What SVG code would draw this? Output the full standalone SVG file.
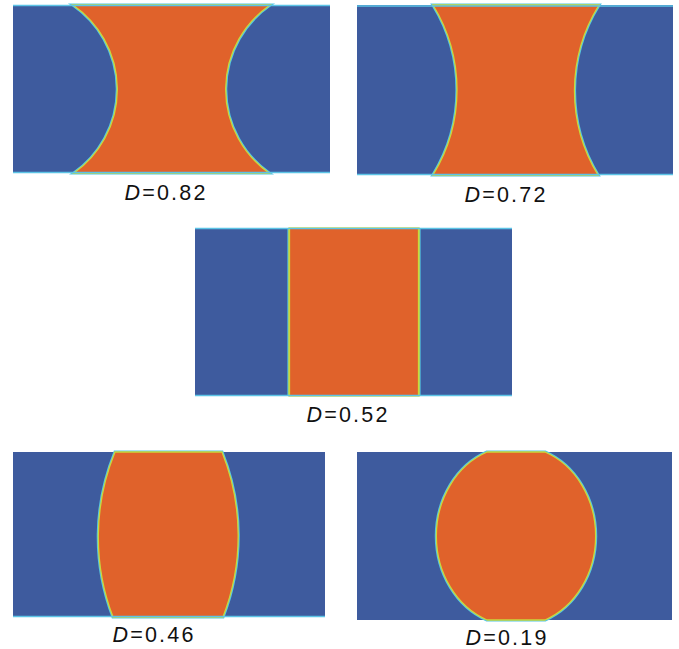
<svg xmlns="http://www.w3.org/2000/svg" width="679" height="649" viewBox="0 0 679 649">
  <style>
    .bg { fill: #3e5b9e; }
    .phase { fill: #e0622b; stroke: #c9d83c; stroke-width: 1.3; }
    .halo { fill: none; stroke: #56c6e2; stroke-width: 3.2; }
    .edge { stroke: #5cc4e6; stroke-width: 1.5; }
    .lbl { font-family: "Liberation Sans", Arial, sans-serif; font-size: 21.5px; fill: #111; text-anchor: middle; letter-spacing: 2.2px; }
    .it { font-style: italic; }
  </style>
  <rect width="679" height="649" fill="#ffffff"/>

  <!-- D = 0.82 : concave neck -->
  <g id="panel-082">
    <rect class="bg" x="13" y="5" width="317" height="168"/>
    <path class="halo" d="M73,5 H270 A104,103 0 0 0 269,173 H74 A104,103 0 0 0 73,5 Z"/>
    <path class="phase" d="M73,5 H270 A104,103 0 0 0 269,173 H74 A104,103 0 0 0 73,5 Z"/>
    <line class="edge" x1="13" y1="5.5" x2="330" y2="5.5"/>
    <line class="edge" x1="13" y1="172.5" x2="330" y2="172.5"/>
    <text class="lbl" x="166" y="200"><tspan class="it">D</tspan>=0.82</text>
  </g>

  <!-- D = 0.72 : shallow neck -->
  <g id="panel-072">
    <rect class="bg" x="357" y="5" width="316" height="170"/>
    <path class="halo" d="M433,5 H599 A162.5,162.5 0 0 0 598,175 H433 A162.5,162.5 0 0 0 433,5 Z"/>
    <path class="phase" d="M433,5 H599 A162.5,162.5 0 0 0 598,175 H433 A162.5,162.5 0 0 0 433,5 Z"/>
    <line class="edge" x1="357" y1="6" x2="673" y2="6"/>
    <line class="edge" x1="357" y1="174.5" x2="673" y2="174.5"/>
    <text class="lbl" x="506" y="202"><tspan class="it">D</tspan>=0.72</text>
  </g>

  <!-- D = 0.52 : flat band -->
  <g id="panel-052">
    <rect class="bg" x="195" y="228" width="317" height="168"/>
    <line class="halo" x1="289" y1="228" x2="289" y2="396"/>
    <line class="halo" x1="419" y1="228" x2="419" y2="396"/>
    <rect class="phase" x="289" y="228" width="130" height="168" stroke="none"/>
    <line x1="289.5" y1="228" x2="289.5" y2="396" stroke="#c9d83c" stroke-width="1.3"/>
    <line x1="418.5" y1="228" x2="418.5" y2="396" stroke="#c9d83c" stroke-width="1.3"/>
    <line class="edge" x1="195" y1="228.5" x2="512" y2="228.5" stroke-width="1"/>
    <line class="edge" x1="195" y1="395.5" x2="512" y2="395.5" stroke-width="1"/>
    <text class="lbl" x="348" y="422"><tspan class="it">D</tspan>=0.52</text>
  </g>

  <!-- D = 0.46 : slight bulge -->
  <g id="panel-046">
    <rect class="bg" x="13" y="452" width="312" height="165"/>
    <path class="halo" d="M115,452 H222 A225,225 0 0 1 223,617 H113 A225,225 0 0 1 115,452 Z"/>
    <path class="phase" d="M115,452 H222 A225,225 0 0 1 223,617 H113 A225,225 0 0 1 115,452 Z"/>
    <line class="edge" x1="13" y1="616.5" x2="325" y2="616.5" stroke-width="1"/>
    <text class="lbl" x="154" y="642"><tspan class="it">D</tspan>=0.46</text>
  </g>

  <!-- D = 0.19 : near-spherical drop -->
  <g id="panel-019">
    <rect class="bg" x="357" y="452" width="315" height="168"/>
    <path class="halo" d="M487,452 H545 A79,90 0 0 1 545,620 H487 A79,90 0 0 1 487,452 Z"/>
    <path class="phase" d="M487,452 H545 A79,90 0 0 1 545,620 H487 A79,90 0 0 1 487,452 Z"/>
    <text class="lbl" x="507" y="645"><tspan class="it">D</tspan>=0.19</text>
  </g>
</svg>
